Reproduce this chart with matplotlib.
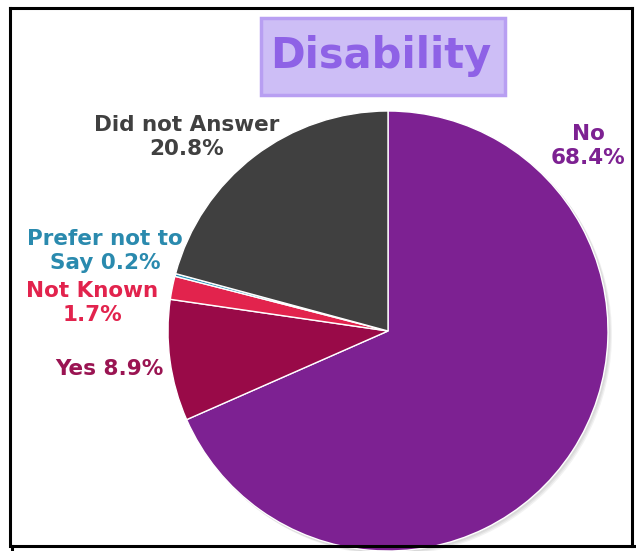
import matplotlib
matplotlib.use("Agg")
import matplotlib.pyplot as plt
from matplotlib.patches import FancyBboxPatch, Circle

categories = ["No", "Yes", "Not Known", "Prefer not to Say", "Did not Answer"]
values = [68.4, 8.9, 1.7, 0.2, 20.8]
colors = ["#7D2192", "#990A48", "#E2234D", "#2A93B8", "#404040"]
label_colors = ["#7D2192", "#9A1452", "#E2234D", "#2A8AAE", "#404040"]
label_texts = ["No\n68.4%", "Yes 8.9%", "Not Known\n1.7%", "Prefer not to\nSay 0.2%", "Did not Answer\n20.8%"]
title = "Disability"

W, H = 636, 551
fig = plt.figure(figsize=(W / 100, H / 100), dpi=100)
ax = fig.add_axes([0, 0, 1, 1])

def Y(y):
    return H - y

cx, cy, R = 388, Y(331), 220

# soft shadow
for i, a in enumerate([0.05, 0.05, 0.05]):
    ax.add_patch(Circle((cx + 1.5 + i, cy - 1.5 - i), R + 0.5, facecolor="black",
                        edgecolor="none", alpha=a, zorder=1.5))

wedges, _ = ax.pie(values, colors=colors, startangle=90, counterclock=False,
                   center=(cx, cy), radius=R, frame=False,
                   wedgeprops=dict(edgecolor="white", linewidth=1.0))
for w in wedges:
    w.set_zorder(2)

ax.set_xlim(0, W)
ax.set_ylim(0, H)
ax.set_aspect("equal")
ax.axis("off")

# frame
lw = 2.2
ax.plot([10, 632], [Y(8), Y(8)], color="black", lw=lw, zorder=1)
ax.plot([10, 10], [Y(8), Y(546)], color="black", lw=lw, zorder=1)
ax.plot([632, 632], [Y(8), Y(546)], color="black", lw=lw, zorder=1)
ax.plot([12, 636], [Y(546), Y(546)], color="black", lw=lw, zorder=5)
ax.plot([12, 12], [Y(546), Y(551)], color="black", lw=lw, zorder=5)

font = "DejaVu Sans"
fs = 15.5
ls = 1.25
ax.text(588, Y(146), label_texts[0], color=label_colors[0], ha="center", va="center",
        fontsize=fs, fontweight="bold", family=font, linespacing=ls)
ax.text(109, Y(369), label_texts[1], color=label_colors[1], ha="center", va="center",
        fontsize=fs, fontweight="bold", family=font)
ax.text(92, Y(303), label_texts[2], color=label_colors[2], ha="center", va="center",
        fontsize=fs, fontweight="bold", family=font, linespacing=ls)
ax.text(105, Y(251), label_texts[3], color=label_colors[3], ha="center", va="center",
        fontsize=fs, fontweight="bold", family=font, linespacing=ls)
ax.text(187, Y(137), label_texts[4], color=label_colors[4], ha="center", va="center",
        fontsize=fs, fontweight="bold", family=font, linespacing=ls)

# title box
box = FancyBboxPatch((261, Y(95)), 244, 77, boxstyle="square,pad=0",
                     facecolor="#CDBEF6", edgecolor="#B89FF2", lw=2.5, zorder=6)
ax.add_patch(box)
ax.text(381, Y(56), title, color="#8E62E6", ha="center", va="center",
        fontsize=30, fontweight="bold", family=font, zorder=7)

fig.savefig("out.png", dpi=100)
